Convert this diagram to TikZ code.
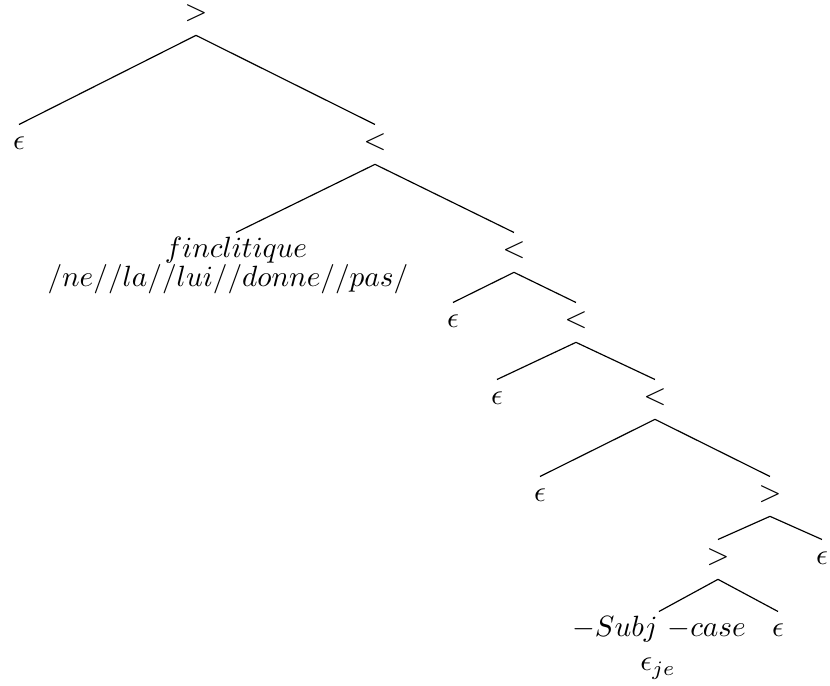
\documentclass[tikz,border=0pt]{standalone}
\begin{document}
\begin{tikzpicture}[x=0.3413pt,y=-0.3413pt,
  lbl/.style={anchor=base,inner sep=0pt,text height=8.5pt,text depth=4.7pt},
  txt/.style={anchor=base,inner sep=0pt},
  br/.style={line width=0.4pt}]
\useasboundingbox (0,0) rectangle (830,686);
\node[lbl] (root) at (196,21)  {$>$};
\node[lbl] (e1)   at (19,150)  {$\epsilon$};
\node[lbl] (lt1)  at (375,150) {$<$};
\node[lbl] (fin)  at (236,258) {$finclitique$};
\node[txt] (pho)  at (228,287) {$/ne//la//lui//donne//pas/$};
\node[lbl] (lt2)  at (514,258) {$<$};
\node[lbl] (e2)   at (453,328) {$\epsilon$};
\node[lbl] (lt3)  at (576,328) {$<$};
\node[lbl] (e3)   at (497,405) {$\epsilon$};
\node[lbl] (lt4)  at (655,405) {$<$};
\node[lbl] (e4)   at (540,502) {$\epsilon$};
\node[lbl] (gt1)  at (770,502) {$>$};
\node[lbl] (gt2)  at (718,565) {$>$};
\node[lbl] (e5)   at (822,565) {$\epsilon$};
\node[lbl] (subj) at (659,637) {$-Subj$ $-case$};
\node[lbl] (e6)   at (778,637) {$\epsilon$};
\node[txt] (eje)  at (658,671) {$\epsilon_{je}$};
\draw[br] (root.south) -- (e1.north);
\draw[br] (root.south) -- (lt1.north);
\draw[br] (lt1.south)  -- (fin.north);
\draw[br] (lt1.south)  -- (lt2.north);
\draw[br] (lt2.south)  -- (e2.north);
\draw[br] (lt2.south)  -- (lt3.north);
\draw[br] (lt3.south)  -- (e3.north);
\draw[br] (lt3.south)  -- (lt4.north);
\draw[br] (lt4.south)  -- (e4.north);
\draw[br] (lt4.south)  -- (gt1.north);
\draw[br] (gt1.south)  -- (gt2.north);
\draw[br] (gt1.south)  -- (e5.north);
\draw[br] (gt2.south)  -- (subj.north);
\draw[br] (gt2.south)  -- (e6.north);
\end{tikzpicture}
\end{document}
